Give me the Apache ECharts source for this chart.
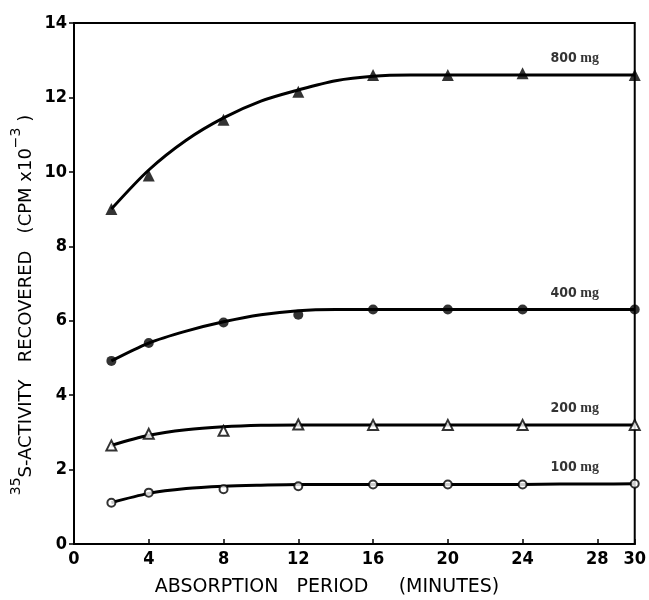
<!DOCTYPE html>
<html>
<head>
<meta charset="utf-8">
<style>
  html, body { margin: 0; padding: 0; background: #fff; }
  #chart { width: 649px; height: 600px; }
</style>
<script src="https://cdn.jsdelivr.net/npm/echarts@6/dist/echarts.min.js"></script>
</head>
<body>
<div id="chart"></div>
<script>
// Sampling times (minutes)
const times = [2, 4, 8, 12, 16, 20, 24, 30];

// Measured 35S activity (CPM x 10^-3) per dose
const dose800 = [9.0, 9.9, 11.4, 12.15, 12.6, 12.6, 12.65, 12.6];
const dose400 = [4.92, 5.4, 5.95, 6.16, 6.3, 6.3, 6.3, 6.3];
const dose200 = [2.65, 2.96, 3.04, 3.21, 3.2, 3.2, 3.2, 3.2];
const dose100 = [1.11, 1.38, 1.47, 1.55, 1.6, 1.6, 1.6, 1.62];

// Hand-fitted curves through each set of measurements, read every 2 minutes
const fitTimes = [2, 4, 6, 8, 10, 12, 14, 16, 18, 20, 22, 24, 26, 28, 30];
const fit800 = [9.0, 10.05, 10.85, 11.45, 11.9, 12.2, 12.45, 12.57, 12.6, 12.6, 12.6, 12.6, 12.6, 12.6, 12.6];
const fit400 = [4.92, 5.4, 5.72, 5.97, 6.16, 6.27, 6.3, 6.3, 6.3, 6.3, 6.3, 6.3, 6.3, 6.3, 6.3];
const fit200 = [2.65, 2.92, 3.07, 3.15, 3.19, 3.2, 3.2, 3.2, 3.2, 3.2, 3.2, 3.2, 3.2, 3.2, 3.2];
const fit100 = [1.11, 1.36, 1.49, 1.55, 1.58, 1.6, 1.6, 1.6, 1.6, 1.6, 1.6, 1.6, 1.61, 1.61, 1.62];

const doseLabels = ['800 mg', '400 mg', '200 mg', '100 mg'];

const xTicks = [0, 4, 8, 12, 16, 20, 24, 28, 30];
const yTicks = [0, 2, 4, 6, 8, 10, 12, 14];

const FONT = '"DejaVu Sans Condensed", "DejaVu Sans", sans-serif';
const TITLE_FONT = '"DejaVu Sans", sans-serif';

function pairs(xs, ys) { return xs.map((x, i) => [x, ys[i]]); }

function fitSeries(ys) {
  return {
    type: 'line',
    data: pairs(fitTimes, ys),
    smooth: 0.3,
    showSymbol: false,
    lineStyle: { color: '#000', width: 3 },
    z: 2,
    silent: true
  };
}

function pointSeries(ys, symbol, size, filled, label) {
  const data = pairs(times, ys).map((p, i) => {
    if (i !== times.length - 1) return p;
    return {
      value: p,
      label: {
        show: true,
        position: 'top',
        offset: [-60, 1],
        formatter: function () {
          const parts = label.split(' ');
          return '{n|' + parts[0] + '} {u|' + parts[1] + '}';
        },
        rich: {
          n: { fontFamily: FONT, fontSize: 14, fontWeight: 'bold', color: '#000' },
          u: { fontFamily: 'Liberation Serif', fontSize: 14, fontWeight: 'bold', color: '#000' }
        }
      }
    };
  });
  return {
    type: 'scatter',
    data: data,
    symbol: symbol,
    symbolSize: size,
    itemStyle: {
      color: filled ? '#000' : '#fff',
      borderColor: '#000',
      borderWidth: filled ? 0 : 2
    },
    z: 3
  };
}

const chart = echarts.init(document.getElementById('chart'));

chart.setOption({
  animation: false,
  backgroundColor: '#fff',
  grid: {
    left: 74, right: 12, top: 23, bottom: 56,
    show: true, borderColor: '#000', borderWidth: 2, backgroundColor: 'transparent'
  },
  xAxis: {
    type: 'value',
    min: 0, max: 30,
    axisLine: { show: true, lineStyle: { color: '#000', width: 2 } },
    axisTick: { show: true, inside: true, length: 5, lineStyle: { color: '#000', width: 1.5 }, customValues: xTicks },
    axisLabel: { customValues: xTicks, color: '#000', fontFamily: FONT, fontWeight: 'bold', fontSize: 18, margin: 6 },
    splitLine: { show: false },
    splitArea: { show: false }
  },
  yAxis: {
    type: 'value',
    min: 0, max: 14,
    axisLine: { show: true, lineStyle: { color: '#000', width: 2 } },
    axisTick: { show: true, inside: false, length: 5, lineStyle: { color: '#000', width: 1.5 }, customValues: yTicks },
    axisLabel: { customValues: yTicks, color: '#000', fontFamily: FONT, fontWeight: 'bold', fontSize: 18, margin: 7 },
    splitLine: { show: false }
  },
  graphic: [{
    // vertical axis title, with superscripts
    type: 'text',
    x: 22, y: 305,
    rotation: Math.PI / 2,
    style: {
      text: '{s|35}{n|S-ACTIVITY   RECOVERED   (CPM x10}{s|\u22123}{n| )}',
      align: 'center',
      verticalAlign: 'middle',
      fill: '#000',
      rich: {
        n: { fontFamily: TITLE_FONT, fontSize: 18, fill: '#000', verticalAlign: 'bottom', lineHeight: 26 },
        s: { fontFamily: TITLE_FONT, fontSize: 14, fill: '#000', verticalAlign: 'top', lineHeight: 26 }
      }
    }
  }, {
    // horizontal axis title
    type: 'text',
    x: 327, y: 587,
    style: {
      text: 'ABSORPTION   PERIOD     (MINUTES)',
      align: 'center',
      verticalAlign: 'middle',
      fill: '#000',
      font: '19px "DejaVu Sans", sans-serif'
    }
  }],
  series: [
    fitSeries(fit800),
    fitSeries(fit400),
    fitSeries(fit200),
    fitSeries(fit100),
    pointSeries(dose800, 'triangle', 12, true, doseLabels[0]),
    pointSeries(dose400, 'circle', 10, true, doseLabels[1]),
    pointSeries(dose200, 'triangle', 10, false, doseLabels[2]),
    pointSeries(dose100, 'circle', 8, false, doseLabels[3])
  ]
});
</script>
</body>
</html>
